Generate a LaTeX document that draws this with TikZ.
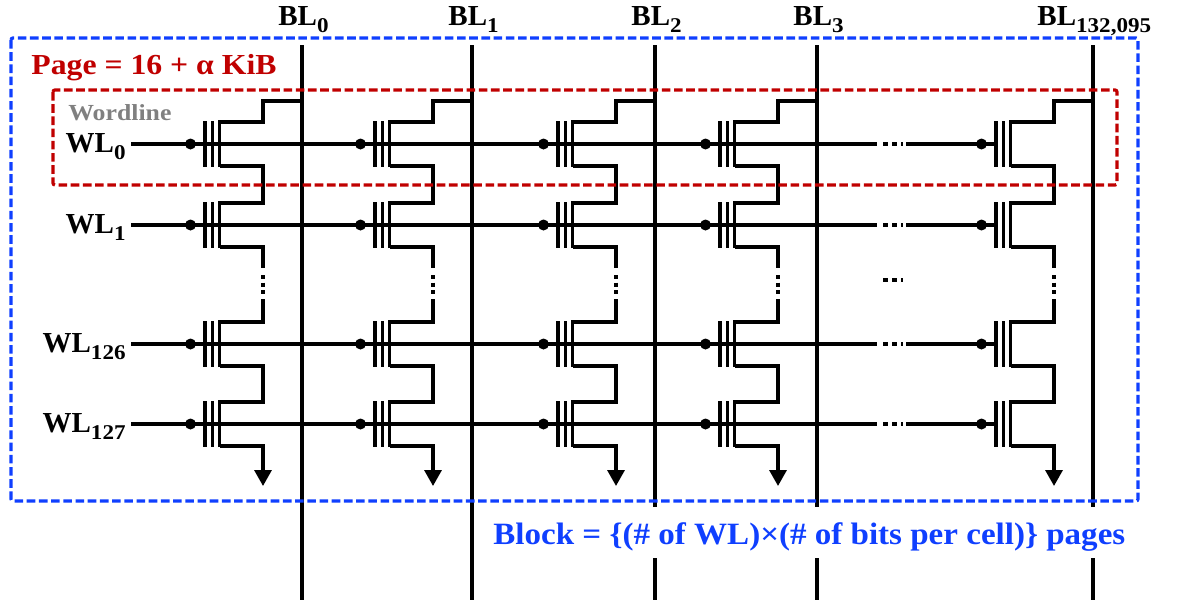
\documentclass[tikz,border=0pt]{standalone}
\usepackage{fontspec}
\setmainfont{Liberation Serif}
\newfontfamily\subfont[FakeStretch=1.1]{Liberation Serif}
\usetikzlibrary{arrows.meta}
\definecolor{pageRed}{HTML}{C00000}
\definecolor{blockBlue}{HTML}{0F3FFF}
\newcommand{\lbl}[2]{\fontsize{14.5}{16}\selectfont\bfseries #1\raisebox{-3.5pt}{\subfont\fontsize{10.5}{11}\selectfont\bfseries #2}}
\tikzset{
	wire/.style={line width=1.65pt,line cap=butt,line join=miter},
	dotsline/.style={line width=2pt,dash pattern=on 2.5pt off 2pt},
	box/.style={line width=1.6pt,dash pattern=on 4.3pt off 1.8pt,rounded corners=1pt},
	txtleft/.style={inner sep=0pt,anchor=base west},
	wlname/.style={inner sep=0pt,anchor=base east}
}

\begin{document}
\begin{tikzpicture}[x=0.5pt,y=-0.5pt]
	\useasboundingbox (0,0) rectangle (1181,611);
	%bitlines
	\foreach \n/\x in {0/302,1/472}{
		\coordinate (top\n) at (\x,45);
		\coordinate (bot\n) at (\x,600);
		\draw[wire] (top\n)--(bot\n);
	}
	\foreach \n/\x in {2/655,3/817,4/1093}{
		\coordinate (top\n) at (\x,45);
		\coordinate (gapa\n) at (\x,507);
		\coordinate (gapb\n) at (\x,558);
		\coordinate (bot\n) at (\x,600);
		\draw[wire] (top\n)--(gapa\n);
		\draw[wire] (gapb\n)--(bot\n);
	}
	\node[txtleft] (bl0) at (278,25) {\lbl{BL}{0}};
	\node[txtleft] (bl1) at (448,25) {\lbl{BL}{1}};
	\node[txtleft] (bl2) at (631,25) {\lbl{BL}{2}};
	\node[txtleft] (bl3) at (793,25) {\lbl{BL}{3}};
	\node[txtleft] (bl4) at (1037,25) {\lbl{BL}{132,095}};
	%wordlines
	\foreach \n/\y/\t/\s in {0/144/WL/0,1/225/WL/1,2/344/WL/126,3/424/WL/127}{
		\node[wlname] (wl\n) at (126,\y+8) {\lbl{\t}{\s}};
		\coordinate (wa\n) at (131,\y);
		\coordinate (wb\n) at (877,\y);
		\coordinate (wc\n) at (883,\y);
		\coordinate (wd\n) at (903,\y);
		\coordinate (we\n) at (906,\y);
		\coordinate (wf\n) at (996,\y);
		\draw[wire] (wa\n)--(wb\n);
		\draw[dotsline] (wc\n)--(wd\n);
		\draw[wire] (we\n)--(wf\n);
	}
	%cells
	\foreach \x in {302,472,655,817,1093}{
		\foreach \y in {144,225,344,424}{
			\fill (\x-111.5,\y) circle (5.5);
			\draw[line width=2pt] (\x-111.5,\y)--(\x-97,\y);
			\draw[wire] (\x-97,\y-23)--(\x-97,\y+23);
			\draw[wire] (\x-89.5,\y-23)--(\x-89.5,\y+23);
			\draw[wire] (\x-82.5,\y+23)--(\x-82.5,\y-22)--(\x-39,\y-22);
			\draw[wire] (\x-82.5,\y+22)--(\x-39,\y+22);
		}
		\draw[wire] (\x-39,123.6)--(\x-39,101)--(\x,101);
		\draw[wire] (\x-39,164.4)--(\x-39,204.6);
		\draw[wire] (\x-39,245.4)--(\x-39,268);
		\draw[dotsline,dash pattern=on 2pt off 1.75pt] (\x-39,275)--(\x-39,294);
		\draw[wire] (\x-39,299)--(\x-39,323.6);
		\draw[wire] (\x-39,364.4)--(\x-39,403.6);
		\draw[wire,-{Triangle[length=8pt,width=8.5pt]}] (\x-39,444.4)--(\x-39,486);
	}
	\draw[dotsline] (883,280)--(903,280);
	%page and block
	\draw[box,draw=pageRed] (53,90) rectangle (1117,185);
	\draw[box,draw=blockBlue] (11,38) rectangle (1138,501);
	\node[txtleft,text=pageRed] (page) at (31,74) {\scalebox{1.094}[1]{\fontsize{14.5}{16}\selectfont\bfseries Page = 16 + α KiB}};
	\node[txtleft,text=gray] (wordline) at (68,120) {\scalebox{1.12}[1]{\fontsize{11.5}{12}\selectfont\bfseries Wordline}};
	\node[txtleft,text=blockBlue] (block) at (493,544) {\scalebox{1.066}[1]{\fontsize{15.5}{17}\selectfont\bfseries Block = \{(\# of WL)×(\# of bits per cell)\} pages}};
\end{tikzpicture}
\end{document}
